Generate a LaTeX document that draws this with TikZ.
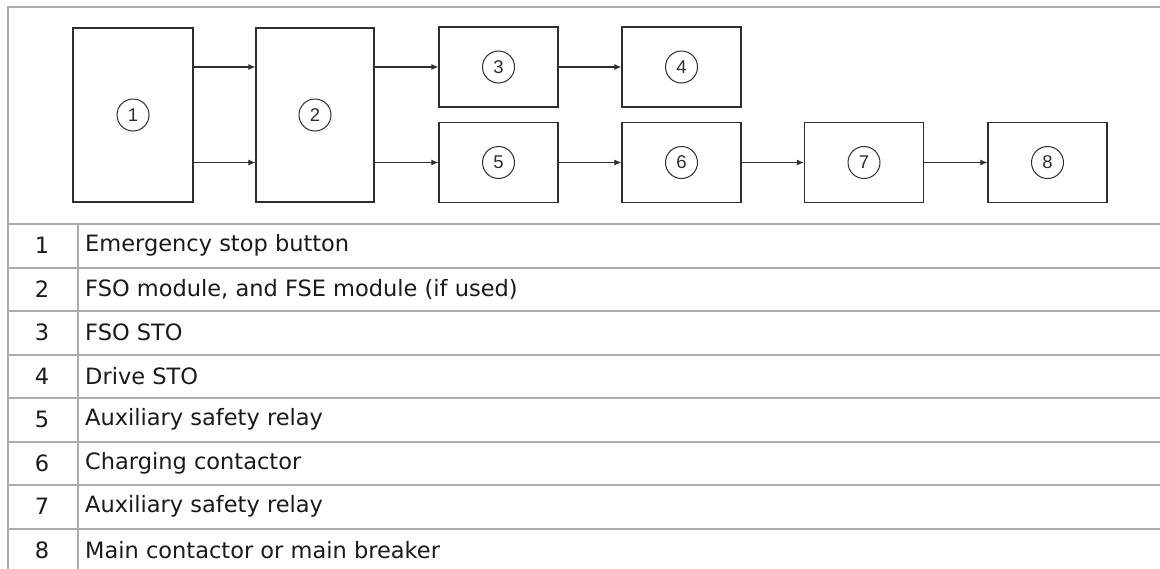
\documentclass[tikz,border=0pt]{standalone}
\usepackage{fontspec}
\setmainfont{DejaVu Sans}
\newfontfamily\circfont{Liberation Sans}
\usetikzlibrary{arrows.meta}
\definecolor{gridgray}{HTML}{ABABAB}
\definecolor{boxline}{HTML}{2E2E2E}
\definecolor{txt}{HTML}{1A1A1A}
\tikzset{
  blk/.style={draw=boxline, line width=1.2pt, rectangle, inner sep=0pt},
  numc/.style={draw=boxline, line width=1pt, circle, minimum size=32pt, inner sep=0pt, font=\circfont\fontsize{18.5}{18.5}\selectfont, text=boxline},
  arr/.style={draw=boxline, line width=1.1pt, -{Latex[length=7pt,width=6pt]}},
  grid/.style={draw=gridgray, line width=2pt},
  numtxt/.style={anchor=center, font=\fontsize{22.5}{22.5}\selectfont, text=txt},
  desc/.style={anchor=west, font=\fontsize{22.5}{22.5}\selectfont, text=txt, inner sep=0pt}
}
\begin{document}
\begin{tikzpicture}[x=1pt,y=-1pt]
\useasboundingbox (0,0) rectangle (1160,568);
\fill[white] (0,0) rectangle (1160,568);
% frame and grid
\draw[grid] (8,572) -- (8,7) -- (1162,7);
\foreach \y in {224,267.5,311,354.5,398,441.5,485,528.5}{
  \draw[grid] (8,\y) -- (1162,\y);
}
\draw[grid] (78,224) -- (78,572);
% blocks
\node[blk, minimum width=120pt, minimum height=174pt] (b1) at (133,115) {};
\node[blk, minimum width=118pt, minimum height=174pt] (b2) at (315,115) {};
\node[blk, minimum width=119pt, minimum height=80pt] (b3) at (498.5,67) {};
\node[blk, minimum width=119pt, minimum height=80pt] (b4) at (681.5,67) {};
\node[blk, minimum width=119pt, minimum height=80pt] (b5) at (498.5,162.5) {};
\node[blk, minimum width=119pt, minimum height=80pt] (b6) at (681.5,162.5) {};
\node[blk, minimum width=119pt, minimum height=80pt] (b7) at (864,162.5) {};
\node[blk, minimum width=119pt, minimum height=80pt] (b8) at (1047.5,162.5) {};
\foreach \i in {1,...,8}{
  \node[numc] (n\i) at (b\i) {\i};
}
% connectors
\draw[arr] (b1.east |- b3.west) -- (b2.west |- b3.west);
\draw[arr] (b1.east |- b5.west) -- (b2.west |- b5.west);
\draw[arr] (b2.east |- b3.west) -- (b3.west);
\draw[arr] (b2.east |- b5.west) -- (b5.west);
\draw[arr] (b3) -- (b4);
\draw[arr] (b5) -- (b6);
\draw[arr] (b6) -- (b7);
\draw[arr] (b7) -- (b8);
% table text
\node[numtxt] (t1) at (42,245.75) {1};
\node[desc] (d1) at (85,245.75) {Emergency stop button};
\node[numtxt] (t2) at (42,289.25) {2};
\node[desc] (d2) at (85,289.25) {FSO module, and FSE module (if used)};
\node[numtxt] (t3) at (42,332.75) {3};
\node[desc] (d3) at (85,332.75) {FSO STO};
\node[numtxt] (t4) at (42,376.25) {4};
\node[desc] (d4) at (85,376.25) {Drive STO};
\node[numtxt] (t5) at (42,419.75) {5};
\node[desc] (d5) at (85,419.75) {Auxiliary safety relay};
\node[numtxt] (t6) at (42,463.25) {6};
\node[desc] (d6) at (85,463.25) {Charging contactor};
\node[numtxt] (t7) at (42,506.75) {7};
\node[desc] (d7) at (85,506.75) {Auxiliary safety relay};
\node[numtxt] (t8) at (42,550.25) {8};
\node[desc] (d8) at (85,550.25) {Main contactor or main breaker};
\end{tikzpicture}
\end{document}
